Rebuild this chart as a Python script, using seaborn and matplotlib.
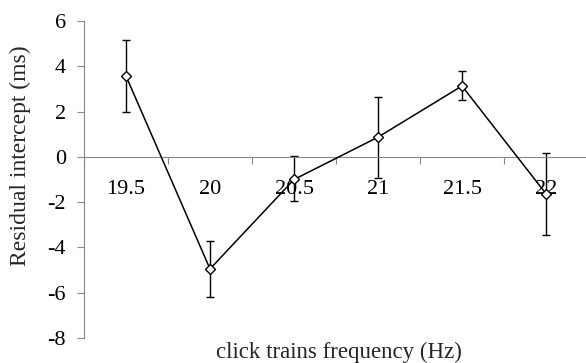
import matplotlib
matplotlib.use("Agg")
import matplotlib.pyplot as plt
import seaborn as sns
import numpy as np
import pandas as pd
from matplotlib.ticker import FixedLocator

categories = ["19.5", "20", "20.5", "21", "21.5", "22"]
values = [3.57, -4.95, -1.0, 0.87, 3.13, -1.63]
err_low = [1.98, -6.18, -1.97, -0.94, 2.51, -3.44]
err_high = [5.15, -3.72, 0.03, 2.66, 3.79, 0.15]
y_ticks = [-8, -6, -4, -2, 0, 2, 4, 6]

sns.set_theme(style="white")
plt.rcParams['font.family'] = ['Liberation Serif', 'DejaVu Serif']

df = pd.DataFrame({"pos": np.arange(len(categories)), "value": values,
                   "lo": err_low, "hi": err_high})

fig = plt.figure(figsize=(5.86, 3.63), dpi=100)
ax = fig.add_axes([84/586, 1-338/363, (588-84)/586, (338-21)/363])

yerr = np.array([df["value"] - df["lo"], df["hi"] - df["value"]])
ax.errorbar(df["pos"], df["value"], yerr=yerr, fmt='none', ecolor='black',
            elinewidth=1.0, capsize=3, capthick=1.0, zorder=2)
sns.lineplot(data=df, x="pos", y="value", ax=ax, color='black', linewidth=1.1,
             marker='D', markersize=5, markerfacecolor='white',
             markeredgecolor='black', markeredgewidth=1.0, zorder=3)

ax.set_xlim(-0.5, 5.5)
ax.set_ylim(-8, 6)
ax.set_yticks(y_ticks)
ax.set_yticklabels([str(v) for v in y_ticks])
ax.set_xticks(df["pos"])
ax.set_xticklabels(categories)
ax.xaxis.set_minor_locator(FixedLocator(np.arange(-0.5, 5.6, 1.0)))
ax.tick_params(axis='x', which='major', length=0, pad=17, labelsize=16, labelcolor='black')
ax.tick_params(axis='x', which='minor', length=5, width=0.8, direction='out', color='#888888', bottom=True)
ax.tick_params(axis='y', which='major', length=5, width=0.8, direction='out', color='#888888',
               left=True, pad=8, labelsize=16, labelcolor='black')

for s in ['top', 'right']:
    ax.spines[s].set_visible(False)
ax.spines['bottom'].set_position(('data', 0))
ax.spines['bottom'].set_color('#888888')
ax.spines['bottom'].set_linewidth(0.8)
ax.spines['left'].set_color('#888888')
ax.spines['left'].set_linewidth(0.8)
ax.set_xlabel("")
ax.set_ylabel("")

fig.text(339/586, 1-352/363, "click trains frequency (Hz)", ha='center', va='center', fontsize=16.5)
fig.text(20/586, 1-156/363, "Residual intercept (ms)", ha='center', va='center', rotation=90, fontsize=17)

fig.savefig("out.png", dpi=100)
